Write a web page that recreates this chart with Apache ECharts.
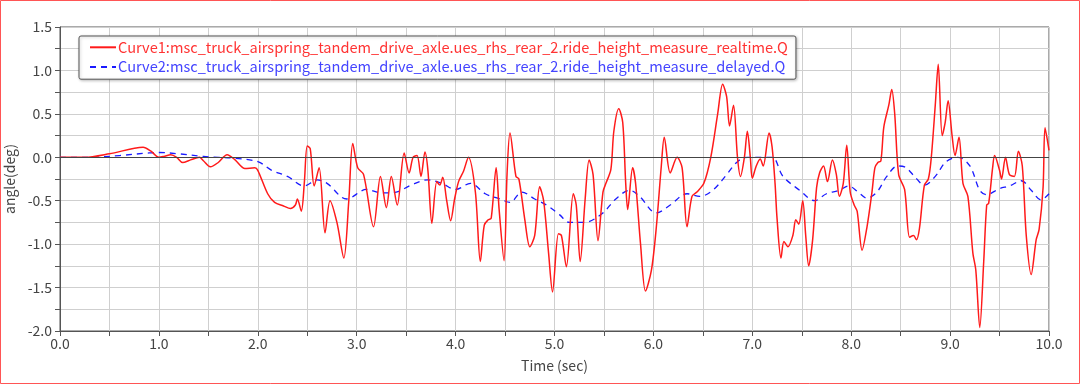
<!DOCTYPE html>
<html><head><meta charset="utf-8">
<script src="https://cdn.jsdelivr.net/npm/echarts@6/dist/echarts.min.js"></script>
<style>html,body{margin:0;padding:0;background:#fff}#c{width:1080px;height:384px}</style>
</head><body><div id="c"></div>
<script>
const seriesNames = [
  "Curve1:msc_truck_airspring_tandem_drive_axle.ues_rhs_rear_2.ride_height_measure_realtime.Q",
  "Curve2:msc_truck_airspring_tandem_drive_axle.ues_rhs_rear_2.ride_height_measure_delayed.Q"
];
const xTicks = [0,1,2,3,4,5,6,7,8,9,10];
const yTicks = [-2.0,-1.5,-1.0,-0.5,0.0,0.5,1.0,1.5];

const redT = [0.0,0.25,0.5,0.84,0.92,1.0,1.05,1.12,1.18,1.24,1.32,1.41,1.45,1.52,1.6,1.69,1.77,1.87,1.97,2.0,2.1,2.17,2.26,2.33,2.38,2.40,2.44,2.47,2.50,2.53,2.57,2.62,2.68,2.73,2.80,2.87,2.92,2.96,3.01,3.07,3.17,3.24,3.30,3.35,3.41,3.48,3.53,3.57,3.61,3.65,3.69,3.72,3.76,3.81,3.84,3.87,3.91,3.95,3.99,4.03,4.08,4.13,4.2,4.25,4.29,4.33,4.36,4.41,4.44,4.49,4.52,4.55,4.61,4.64,4.7,4.75,4.8,4.85,4.89,4.94,4.98,5.04,5.07,5.12,5.19,5.22,5.26,5.31,5.35,5.39,5.44,5.49,5.52,5.57,5.6,5.65,5.69,5.72,5.74,5.79,5.82,5.87,5.92,5.98,6.03,6.08,6.11,6.17,6.24,6.29,6.34,6.39,6.44,6.51,6.58,6.65,6.70,6.74,6.77,6.81,6.85,6.88,6.92,6.95,6.98,7.0,7.04,7.08,7.11,7.17,7.2,7.23,7.25,7.29,7.32,7.36,7.41,7.44,7.47,7.51,7.54,7.57,7.61,7.65,7.68,7.72,7.76,7.81,7.85,7.88,7.92,7.955,7.99,8.03,8.06,8.11,8.16,8.21,8.24,8.27,8.3,8.33,8.38,8.41,8.44,8.48,8.54,8.59,8.63,8.66,8.69,8.74,8.78,8.81,8.85,8.88,8.92,8.95,8.98,9.02,9.05,9.09,9.13,9.18,9.23,9.26,9.3,9.34,9.37,9.39,9.43,9.45,9.5,9.52,9.56,9.6,9.65,9.69,9.73,9.77,9.82,9.87,9.9,9.94,9.96,10.0];
const redV = [0,0,0.04,0.115,0.07,0.0,0.01,0.03,0.0,-0.06,-0.03,0.0,-0.04,-0.11,-0.06,0.03,-0.03,-0.13,-0.12,-0.15,-0.42,-0.52,-0.56,-0.59,-0.55,-0.48,-0.62,-0.3,0.13,0.1,-0.33,-0.12,-0.87,-0.5,-0.75,-1.16,-0.5,0.16,-0.12,-0.2,-0.8,-0.22,-0.58,-0.22,-0.55,0.05,-0.18,0.0,0.02,-0.22,0.06,-0.15,-0.76,-0.28,-0.32,-0.23,-0.5,-0.73,-0.48,-0.28,-0.16,0.0,-0.4,-1.2,-0.78,-0.72,-0.7,-0.12,-0.6,-1.19,-0.2,0.28,-0.22,-0.25,-0.72,-1.03,-0.9,-0.34,-0.5,-1.1,-1.55,-0.88,-0.9,-1.26,-0.42,-0.55,-1.2,-0.48,-0.03,-0.2,-0.96,-0.4,-0.3,-0.14,0.3,0.56,0.4,-0.3,-0.6,-0.12,-0.3,-1.0,-1.54,-1.3,-0.8,-0.1,0.23,-0.18,0.0,-0.12,-0.8,-0.45,-0.4,-0.3,0.0,0.5,0.84,0.7,0.36,0.6,0.0,-0.22,0.0,0.3,0.0,-0.24,-0.1,-0.02,-0.1,0.28,0.12,-0.3,-0.7,-1.16,-0.97,-1.03,-0.9,-0.72,-0.77,-0.5,-0.9,-1.25,-0.95,-0.35,-0.18,-0.1,-0.28,-0.03,-0.2,-0.45,-0.3,0.14,-0.4,-0.55,-0.62,-1.07,-0.8,-0.4,-0.12,-0.06,-0.04,0.35,0.6,0.78,0.5,-0.2,-0.37,-0.92,-0.9,-0.95,-0.82,-0.32,-0.25,0.0,0.6,1.07,0.25,0.4,0.65,0.25,0.02,0.23,-0.3,-0.45,-1.1,-1.3,-1.96,-1.2,-0.55,-0.53,-0.12,0.02,-0.15,-0.25,0.0,-0.2,-0.22,0.07,-0.1,-0.9,-1.35,-0.95,-0.83,-0.35,0.34,0.08];

const blueT = [0.0,0.3,0.6,0.9,1.0,1.2,1.45,1.6,1.75,2.0,2.14,2.3,2.47,2.6,2.7,2.9,3.1,3.25,3.4,3.55,3.72,3.86,4.0,4.15,4.3,4.45,4.55,4.67,4.8,4.92,5.05,5.15,5.3,5.48,5.62,5.76,5.86,6.03,6.17,6.34,6.47,6.6,6.74,6.85,6.95,7.08,7.2,7.31,7.48,7.63,7.75,7.88,7.97,8.07,8.16,8.26,8.36,8.47,8.54,8.64,8.74,8.85,8.96,9.08,9.2,9.3,9.37,9.5,9.6,9.72,9.82,9.92,10.0];
const blueV = [0,0,0.02,0.05,0.055,0.04,0.01,0.0,-0.01,-0.05,-0.15,-0.22,-0.33,-0.26,-0.3,-0.48,-0.37,-0.41,-0.4,-0.32,-0.26,-0.3,-0.37,-0.3,-0.42,-0.48,-0.52,-0.4,-0.48,-0.55,-0.66,-0.75,-0.75,-0.65,-0.48,-0.38,-0.45,-0.64,-0.55,-0.42,-0.45,-0.38,-0.2,-0.05,0.0,0.0,0.0,-0.22,-0.38,-0.5,-0.42,-0.38,-0.33,-0.4,-0.47,-0.4,-0.22,-0.1,-0.11,-0.22,-0.32,-0.22,-0.05,0.0,-0.1,-0.38,-0.43,-0.36,-0.33,-0.27,-0.38,-0.49,-0.42];

const redData = redT.map((t,i)=>[t,redV[i]]);
const blueData = blueT.map((t,i)=>[t,blueV[i]]);

const FONT = '"Noto Sans CJK JP", "Noto Sans", sans-serif';
const chart = echarts.init(document.getElementById('c'), null, {renderer:'canvas'});
chart.setOption({
  animation:false,
  backgroundColor:'#fff',
  textStyle:{fontFamily:FONT},
  graphic:[{type:'rect', shape:{x:0.5,y:0.5,width:1079,height:383}, style:{fill:'none', stroke:'#ff5555', lineWidth:1}, silent:true, z:100}],
  grid:{left:60, right:31, top:27, bottom:53, containLabel:false, outerBoundsMode:'none', show:true, borderColor:'#555', borderWidth:1, backgroundColor:'transparent'},
  legend:{
    orient:'vertical', left:79, top:36,
    padding:[4,8,5,10],
    itemGap:5, itemWidth:26, itemHeight:14,
    backgroundColor:'#fff', borderColor:'#555', borderWidth:1, borderRadius:2,
    shadowColor:'rgba(0,0,0,0.25)', shadowBlur:3, shadowOffsetX:1, shadowOffsetY:1,
    itemStyle:{opacity:0},
    textStyle:{fontFamily:FONT, fontSize:14.6, padding:[0,0,0,-3]},
    data:[
      {name:seriesNames[0], textStyle:{color:'#ff3333'}},
      {name:seriesNames[1], textStyle:{color:'#4444ff'}}
    ]
  },
  xAxis:{
    type:'value', min:0, max:10, interval:1,
    name:'Time (sec)', nameLocation:'middle', nameGap:28,
    nameTextStyle:{color:'#444', fontSize:14, fontFamily:FONT},
    axisLine:{show:true, onZero:false, lineStyle:{color:'#555'}},
    axisTick:{show:true, length:5, lineStyle:{color:'#555'}},
    minorTick:{show:true, splitNumber:2, length:5, lineStyle:{color:'#555'}},
    axisLabel:{color:'#444', fontSize:14, margin:6, formatter:v=>v.toFixed(1)},
    splitLine:{show:true, lineStyle:{color:'#cfcfcf'}},
    minorSplitLine:{show:true, lineStyle:{color:'#cfcfcf'}}
  },
  yAxis:{
    type:'value', min:-2, max:1.5, interval:0.5,
    name:'angle(deg)', nameLocation:'middle', nameGap:42,
    nameTextStyle:{color:'#444', fontSize:14, fontFamily:FONT},
    axisLine:{show:true, onZero:false, lineStyle:{color:'#555'}},
    axisTick:{show:true, length:5, lineStyle:{color:'#555'}},
    minorTick:{show:true, splitNumber:2, length:5, lineStyle:{color:'#555'}},
    axisLabel:{color:'#444', fontSize:14, margin:8, formatter:v=>v.toFixed(1)},
    splitLine:{show:true, lineStyle:{color:'#cfcfcf'}},
    minorSplitLine:{show:true, lineStyle:{color:'#cfcfcf'}}
  },
  series:[
    {name:seriesNames[0], type:'line', data:redData, showSymbol:false, symbol:'none', smooth:0.3,
     lineStyle:{color:'#ff1a1a', width:1.5}, itemStyle:{color:'#ff1a1a'}, z:3,
     markLine:{silent:true, symbol:'none', label:{show:false}, lineStyle:{color:'#444', width:1, type:'solid'}, data:[{yAxis:0}], animation:false}},
    {name:seriesNames[1], type:'line', data:blueData, showSymbol:false, symbol:'none', smooth:0.35,
     lineStyle:{color:'#1a1aff', width:1.3, type:[6,5]}, itemStyle:{color:'#1a1aff'}, z:2}
  ]
});
</script></body></html>
